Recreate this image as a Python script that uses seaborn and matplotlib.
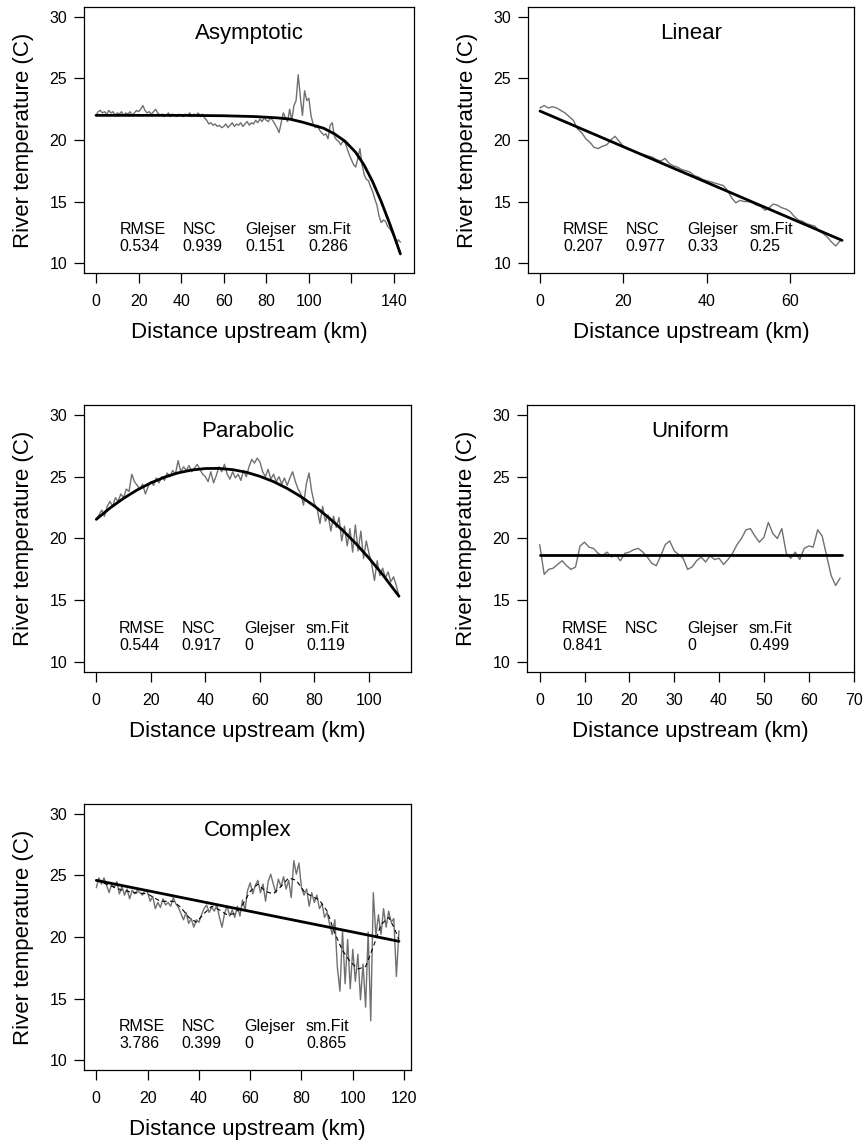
import numpy as np
import matplotlib
matplotlib.use("Agg")
import matplotlib.pyplot as plt
import seaborn as sns

# ---------------- data ----------------
# Observed river temperature, one value per km upstream
asym_obs = [22.0, 22.3, 22.4, 22.2, 22.3, 22.1, 22.4, 22.2, 22.3, 22.0,
            22.2, 22.1, 22.3, 22.0, 22.2, 22.1, 22.3, 22.0, 22.2, 22.4,
            22.3, 22.5, 22.8, 22.4, 22.2, 22.3, 22.1, 22.3, 22.5, 22.2,
            22.0, 22.1, 21.9, 22.0, 22.2, 21.9, 22.1, 22.0, 21.9, 22.1,
            22.0, 21.9, 22.1, 22.0, 22.2, 21.9, 22.1, 22.0, 22.2, 21.9,
            22.1, 21.8, 21.6, 21.3, 21.4, 21.2, 21.3, 21.1, 21.2, 21.0,
            21.1, 21.3, 21.0, 21.2, 21.4, 21.1, 21.3, 21.2, 21.4, 21.1,
            21.3, 21.5, 21.2, 21.4, 21.3, 21.6, 21.4, 21.7, 21.5, 21.8,
            21.6, 21.5, 21.8, 21.6, 21.3, 21.0, 20.6, 21.4, 22.2, 21.8,
            21.5, 22.5, 21.6, 22.8, 23.2, 25.3, 23.5, 22.0, 24.0, 23.2,
            23.4, 22.0, 21.3, 21.0, 21.2, 20.8, 20.6, 20.4, 20.5, 20.1,
            21.2, 21.4, 20.3, 20.0, 19.9, 19.6, 19.9, 19.8, 19.3, 18.8,
            18.4, 18.0, 17.8, 18.5, 19.3, 18.0, 17.2, 16.8, 16.7, 16.2,
            15.8, 15.2, 14.7, 13.8, 13.3, 13.5, 13.4, 13.0, 12.8, 12.5,
            12.2, 11.6, 11.9, 11.7]
asym_fit_km = [0, 20, 40, 60, 75, 85, 91, 97, 102, 107, 112, 117, 122,
               126, 130, 134, 138, 141, 143]
asym_fit_t = [22.0, 22.0, 22.0, 21.97, 21.9, 21.8, 21.7, 21.45, 21.2, 20.95,
              20.5, 19.9, 19.0, 17.95, 16.6, 15.0, 13.2, 11.75, 10.75]

lin_obs = [22.6, 22.8, 22.6, 22.7, 22.6, 22.4, 22.2, 21.9, 21.6, 20.9,
           20.6, 20.1, 19.8, 19.4, 19.3, 19.5, 19.6, 20.0, 20.3, 19.9,
           19.5, 19.3, 19.2, 19.0, 18.9, 18.8, 18.7, 18.6, 18.4, 18.3,
           18.5, 18.1, 17.9, 17.8, 17.6, 17.5, 17.4, 17.1, 17.0, 16.8,
           16.7, 16.6, 16.5, 16.4, 16.3, 15.9, 15.3, 14.9, 15.1, 15.0,
           15.0, 14.9, 14.7, 14.6, 14.3, 14.5, 14.8, 14.7, 14.5, 14.4,
           14.2, 13.8, 13.5, 13.4, 13.2, 13.1, 13.0, 12.6, 12.4, 12.1,
           11.7, 11.4, 11.8]
lin_fit_km = [0, 72.5]
lin_fit_t = [22.35, 11.85]

par_obs = [21.6, 21.9, 22.3, 21.8, 22.6, 23.0, 22.6, 23.3, 23.0, 23.6,
           23.3, 24.0, 23.8, 25.2, 24.6, 24.3, 24.0, 24.4, 23.6, 24.2,
           24.6, 24.3, 24.9, 24.5, 25.0, 24.7, 25.3, 25.0, 25.5, 25.2,
           26.3, 25.4, 25.8, 25.5, 25.9, 25.4, 25.7, 26.0, 25.6, 25.2,
           25.0, 24.6, 25.4, 24.5, 25.1, 25.8, 25.4, 26.0, 25.2, 24.8,
           25.4, 24.9, 25.2, 24.7, 25.5, 25.0, 25.8, 26.4, 26.1, 26.5,
           26.2, 25.4, 25.0, 25.6, 24.8, 25.2, 24.6, 25.0, 24.4, 24.9,
           24.3, 24.9, 25.4, 24.6, 24.0, 23.6, 22.7, 24.4, 25.3, 23.8,
           22.8, 22.4, 21.2, 22.6, 21.4, 21.9, 20.6, 21.8, 20.9, 21.7,
           19.8, 21.0, 19.4, 20.8, 18.9, 21.1, 19.0, 20.6, 18.4, 19.8,
           18.8, 17.9, 16.6, 18.2, 17.0, 17.6, 16.8, 17.3, 16.5, 16.9,
           16.2, 15.3]
par_fit_km = [0, 5, 10, 15, 20, 25, 30, 35, 40, 45, 50, 55, 60, 65, 70, 75,
              80, 85, 90, 95, 100, 105, 111]
par_fit_t = [21.55, 22.46, 23.25, 23.93, 24.50, 24.96, 25.31, 25.54, 25.66,
             25.67, 25.57, 25.36, 25.03, 24.60, 24.05, 23.39, 22.62, 21.73,
             20.74, 19.63, 18.41, 17.08, 15.33]

uni_obs = [19.5, 17.1, 17.5, 17.6, 17.9, 18.2, 17.8, 17.5, 17.7, 19.4,
           19.7, 19.3, 19.2, 18.8, 18.6, 18.9, 18.5, 18.7, 18.2, 18.8,
           18.9, 19.1, 19.2, 18.9, 18.5, 18.0, 17.8, 18.6, 19.5, 19.8,
           19.0, 18.7, 18.4, 17.5, 17.7, 18.2, 18.5, 18.1, 18.6, 18.3,
           18.4, 17.9, 18.3, 18.8, 19.5, 20.0, 20.7, 20.8, 20.2, 19.7,
           20.1, 21.3, 20.4, 20.0, 20.8, 18.8, 18.4, 18.9, 18.3, 19.2,
           19.4, 19.3, 20.7, 20.2, 18.6, 17.0, 16.2, 16.8]
uni_fit_km = [0, 67.5]
uni_fit_t = [18.66, 18.66]

cpx_obs = [24.0, 24.8, 24.3, 24.8, 24.2, 23.6, 24.3, 24.0, 24.5, 23.5,
           24.1, 23.4, 23.9, 23.1, 23.8, 23.5, 23.8, 23.6, 23.4, 23.8,
           23.6, 22.9, 23.3, 22.3, 22.8, 22.4, 23.1, 22.6, 22.8, 22.5,
           23.2, 22.7, 22.4, 21.9, 21.4, 22.0, 21.1, 21.5, 20.8, 21.4,
           21.2, 21.8, 22.3, 22.6, 22.0, 22.4, 22.1, 22.6, 21.6, 20.8,
           21.9, 22.5, 21.7, 22.2, 21.6, 22.5, 21.7, 23.0, 22.2, 23.8,
           24.4, 23.5, 24.2, 24.6, 23.6, 24.3, 22.9, 24.5, 25.1, 24.3,
           23.6, 24.7, 24.1, 24.9, 23.9, 24.6, 23.2, 26.2, 25.1, 26.0,
           24.0, 23.4, 23.9, 22.5, 23.6, 22.8, 23.4, 22.3, 22.7, 21.6,
           22.0, 21.0, 20.2, 21.4, 17.5, 15.6, 20.5, 16.2, 19.8, 15.8,
           19.0, 16.4, 18.6, 14.9, 17.8, 14.3, 20.4, 13.2, 23.6, 20.1,
           21.8, 20.2, 22.3, 20.8, 22.1, 21.2, 21.5, 16.8, 20.5]
cpx_fit_km = [0, 118]
cpx_fit_t = [24.6, 19.65]
cpx_smooth_km = [0, 5, 10, 15, 20, 25, 30, 33, 36, 39, 42, 45, 48, 51, 54,
                 57, 60, 63, 66, 69, 72, 75, 78, 81, 84, 87, 90, 93, 96, 99,
                 102, 105, 108, 111, 114, 116, 118]
cpx_smooth_t = [24.6, 24.2, 23.8, 23.6, 23.5, 22.9, 22.9, 22.4, 21.6, 21.2,
                21.9, 22.5, 22.2, 21.8, 21.9, 22.6, 23.7, 24.3, 23.7, 23.5,
                24.1, 24.8, 24.6, 23.7, 23.3, 23.0, 22.1, 20.3, 18.9, 18.0,
                17.4, 17.6, 19.2, 21.0, 21.6, 20.8, 19.8]

titles = ["Asymptotic", "Linear", "Parabolic", "Uniform", "Complex"]
stat_names = ["RMSE", "NSC", "Glejser", "sm.Fit"]
stat_values = [["0.534", "0.939", "0.151", "0.286"],
               ["0.207", "0.977", "0.33", "0.25"],
               ["0.544", "0.917", "0", "0.119"],
               ["0.841", "", "0", "0.499"],
               ["3.786", "0.399", "0", "0.865"]]
x_ticks = [[0, 20, 40, 60, 80, 100, 120, 140],
           [0, 20, 40, 60],
           [0, 20, 40, 60, 80, 100],
           [0, 10, 20, 30, 40, 50, 60, 70],
           [0, 20, 40, 60, 80, 100, 120]]
x_ticklabels = [["0", "20", "40", "60", "80", "100", "", "140"],
                ["0", "20", "40", "60"],
                ["0", "20", "40", "60", "80", "100"],
                ["0", "10", "20", "30", "40", "50", "60", "70"],
                ["0", "20", "40", "60", "80", "100", "120"]]
y_ticks = [10, 15, 20, 25, 30]

# ---------------- style ----------------
sns.set_style("ticks")
plt.rcParams["font.family"] = ["Liberation Sans", "DejaVu Sans"]
plt.rcParams["axes.linewidth"] = 0.9
plt.rcParams["axes.edgecolor"] = "black"
plt.rcParams["text.color"] = "black"
plt.rcParams["axes.labelcolor"] = "black"
plt.rcParams["xtick.color"] = "black"
plt.rcParams["ytick.color"] = "black"

W, H = 865, 1145
fig = plt.figure(figsize=(W / 100, H / 100), dpi=100)

# axes boxes in pixels: (left, top, right, bottom)
boxes = [(84, 7, 414, 273), (528, 7, 854, 273),
         (84, 405, 411, 672), (527, 405, 854, 672),
         (84, 804, 411, 1070)]
xlims = [(-5.64, 149.4), (-2.88, 75.36), (-4.51, 115.4), (-2.83, 70.1),
         (-4.8, 122.7)]

obs = [asym_obs, lin_obs, par_obs, uni_obs, cpx_obs]
fits = [(asym_fit_km, asym_fit_t), (lin_fit_km, lin_fit_t),
        (par_fit_km, par_fit_t), (uni_fit_km, uni_fit_t),
        (cpx_fit_km, cpx_fit_t)]

grey = "#707070"
stat_x = [0.107, 0.299, 0.490, 0.679]

for i in range(5):
    l, t, r, b = boxes[i]
    ax = fig.add_axes([l / W, 1 - b / H, (r - l) / W, (b - t) / H])
    y = np.asarray(obs[i], dtype=float)
    km = np.arange(len(y), dtype=float)
    sns.lineplot(x=km, y=y, ax=ax, color=grey, linewidth=1.0,
                 estimator=None, sort=False)
    if i == 4:
        sns.lineplot(x=cpx_smooth_km, y=cpx_smooth_t, ax=ax, color="black",
                     linewidth=0.8, estimator=None, sort=False,
                     linestyle=(0, (4, 3)))
    fx, fy = fits[i]
    sns.lineplot(x=fx, y=fy, ax=ax, color="black", linewidth=2.0,
                 estimator=None, sort=False)
    ax.set_xlim(*xlims[i])
    ax.set_ylim(9.2, 30.8)
    ax.set_xticks(x_ticks[i])
    ax.set_xticklabels(x_ticklabels[i])
    ax.set_yticks(y_ticks)
    ax.set_yticklabels([str(v) for v in y_ticks])
    ax.tick_params(axis="both", direction="out", length=7, width=0.9,
                   labelsize=11.5, colors="black")
    ax.tick_params(axis="x", pad=8)
    ax.tick_params(axis="y", pad=5)
    for s in ax.spines.values():
        s.set_visible(True)
        s.set_color("black")
        s.set_linewidth(0.9)
    ax.set_xlabel("Distance upstream (km)", fontsize=16, color="black")
    ax.set_ylabel("River temperature (C)", fontsize=16, color="black")
    hpx = b - t
    wpx = r - l
    ax.xaxis.set_label_coords(0.5, -49.0 / hpx)
    ax.yaxis.set_label_coords(-50.0 / wpx, 0.5)
    ax.text(0.5, 0.90, titles[i], transform=ax.transAxes, ha="center",
            va="center", fontsize=16, color="black")
    for j in range(4):
        ax.text(stat_x[j], 0.162, stat_names[j], transform=ax.transAxes,
                ha="left", va="center", fontsize=11.5, color="black")
        ax.text(stat_x[j], 0.099, stat_values[i][j], transform=ax.transAxes,
                ha="left", va="center", fontsize=11.5, color="black")
    ax.grid(False)
    ax.set_facecolor("white")

fig.savefig("out.png", dpi=100, facecolor="white")
